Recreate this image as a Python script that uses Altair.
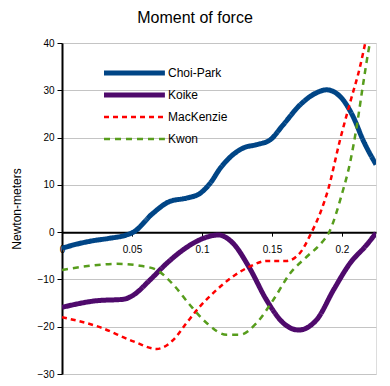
import altair as alt
import pandas as pd

series_names = ["Choi-Park", "Koike", "MacKenzie", "Kwon"]
series_colors = ["#004586", "#4f0a6c", "#ff0000", "#579d1c"]
series_dash = [[1, 0], [1, 0], [5, 4], [6, 5]]
series_width = [5, 5, 2.5, 2.5]

choi_x = [0, 0.011, 0.0224, 0.034, 0.046, 0.051, 0.065, 0.077, 0.089, 0.0986, 0.106, 0.113,
          0.1295, 0.139, 0.1486, 0.158, 0.170, 0.182, 0.189, 0.1986, 0.208, 0.215, 0.2243]
choi_y = [-3.4, -2.5, -1.8, -1.3, -0.6, 0.0, 4.0, 6.5, 7.2, 8.2, 10.4, 13.5,
          17.8, 18.5, 19.5, 22.7, 26.9, 29.5, 30.1, 28.7, 24.4, 19.5, 14.3]

koike_x = [0, 0.0248, 0.0438, 0.051, 0.0629, 0.0748, 0.0867, 0.0986, 0.1117, 0.122, 0.134,
           0.146, 0.158, 0.169, 0.182, 0.194, 0.2057, 0.2176, 0.2243]
koike_y = [-15.9, -14.5, -14.2, -13.3, -10.1, -6.6, -3.7, -1.6, -0.6, -2.3, -7.6,
           -14.3, -19.2, -20.7, -18.5, -12.2, -6.6, -2.7, -0.2]

mack_x = [0, 0.027, 0.051, 0.0676, 0.0795, 0.089, 0.0986, 0.1105, 0.122, 0.134, 0.146,
          0.160, 0.170, 0.178, 0.184, 0.19, 0.1986, 0.2057, 0.2129, 0.218]
mack_y = [-18.0, -20.1, -23.1, -24.7, -22.8, -19.2, -15.7, -12.2, -9.4, -7.3, -6.1,
          -6.1, -4.4, -0.2, 3.7, 8.9, 19.5, 27.3, 35.0, 42.0]

kwon_x = [0, 0.0152, 0.039, 0.0557, 0.0676, 0.0795, 0.0914, 0.1033, 0.1176, 0.127, 0.139,
          0.151, 0.163, 0.1748, 0.184, 0.191, 0.1998, 0.2057, 0.2105, 0.2152, 0.219, 0.2243]
kwon_y = [-8.0, -7.3, -6.7, -7.1, -8.0, -11.1, -15.4, -19.2, -21.7, -21.7, -19.2,
          -14.3, -8.7, -5.2, -2.7, 0.1, 7.9, 14.6, 22.3, 31.5, 38.5, 46.0]

x_ticks = [0, 0.05, 0.1, 0.15, 0.2]
y_ticks = [-30, -20, -10, 0, 10, 20, 30, 40]
x_max = 0.2243
y_min, y_max = -30, 40

rows = []
for name, xs, ys in zip(series_names,
                        [choi_x, koike_x, mack_x, kwon_x],
                        [choi_y, koike_y, mack_y, kwon_y]):
    for a, b in zip(xs, ys):
        rows.append({"series": name, "x": a, "y": b})
df = pd.DataFrame(rows)

W, H = 314, 331
zero_offset = -H * (0 - y_min) / (y_max - y_min)
FONT = "Liberation Sans"

legend = alt.Legend(
    title=None, orient="none", legendX=34, legendY=24,
    symbolType="M0,0H17.4", symbolSize=49, symbolOffset=2,
    labelOffset=58, labelFontSize=12, labelFont=FONT, labelColor="black",
    rowPadding=2, padding=0, gridAlign="all",
)

chart = alt.Chart(df).mark_line(interpolate="monotone", clip=True).encode(
    x=alt.X("x:Q",
            scale=alt.Scale(domain=[0, x_max], nice=False, zero=False),
            axis=alt.Axis(values=x_ticks, format="~g", offset=zero_offset, grid=False,
                          title=None, domainColor="black", domainWidth=2,
                          tickColor="black", tickSize=4, labelFlush=False,
                          labelOverlap=False, labelPadding=8)),
    y=alt.Y("y:Q",
            scale=alt.Scale(domain=[y_min, y_max], nice=False),
            axis=alt.Axis(values=y_ticks, title="Newton-meters", grid=True,
                          gridColor="#c4c4c4", domainColor="black", domainWidth=2,
                          tickColor="black", tickSize=5, labelFlush=False,
                          labelOverlap=False, labelPadding=3, titlePadding=14,
                          titleFontWeight="normal", titleFontSize=12)),
    color=alt.Color("series:N", sort=series_names,
                    scale=alt.Scale(domain=series_names, range=series_colors), legend=legend),
    strokeDash=alt.StrokeDash("series:N", sort=series_names,
                              scale=alt.Scale(domain=series_names, range=series_dash), legend=legend),
    strokeWidth=alt.StrokeWidth("series:N", sort=series_names,
                                scale=alt.Scale(type="ordinal", domain=series_names, range=series_width),
                                legend=legend),
).properties(
    width=W, height=H,
    title=alt.TitleParams("Moment of force", fontSize=16, font=FONT, fontWeight="normal",
                          color="black", anchor="middle", offset=12, dx=-24),
    autosize=alt.AutoSizeParams(type="none"),
    padding={"left": 54, "top": 35, "right": 6, "bottom": 4},
).configure_view(
    stroke="#c4c4c4"
).configure_axis(
    labelFont=FONT, titleFont=FONT, labelFontSize=12, labelColor="black", titleColor="black"
).configure(background="white")

chart.save("out.html", embed_options={"renderer": "svg", "actions": False})
